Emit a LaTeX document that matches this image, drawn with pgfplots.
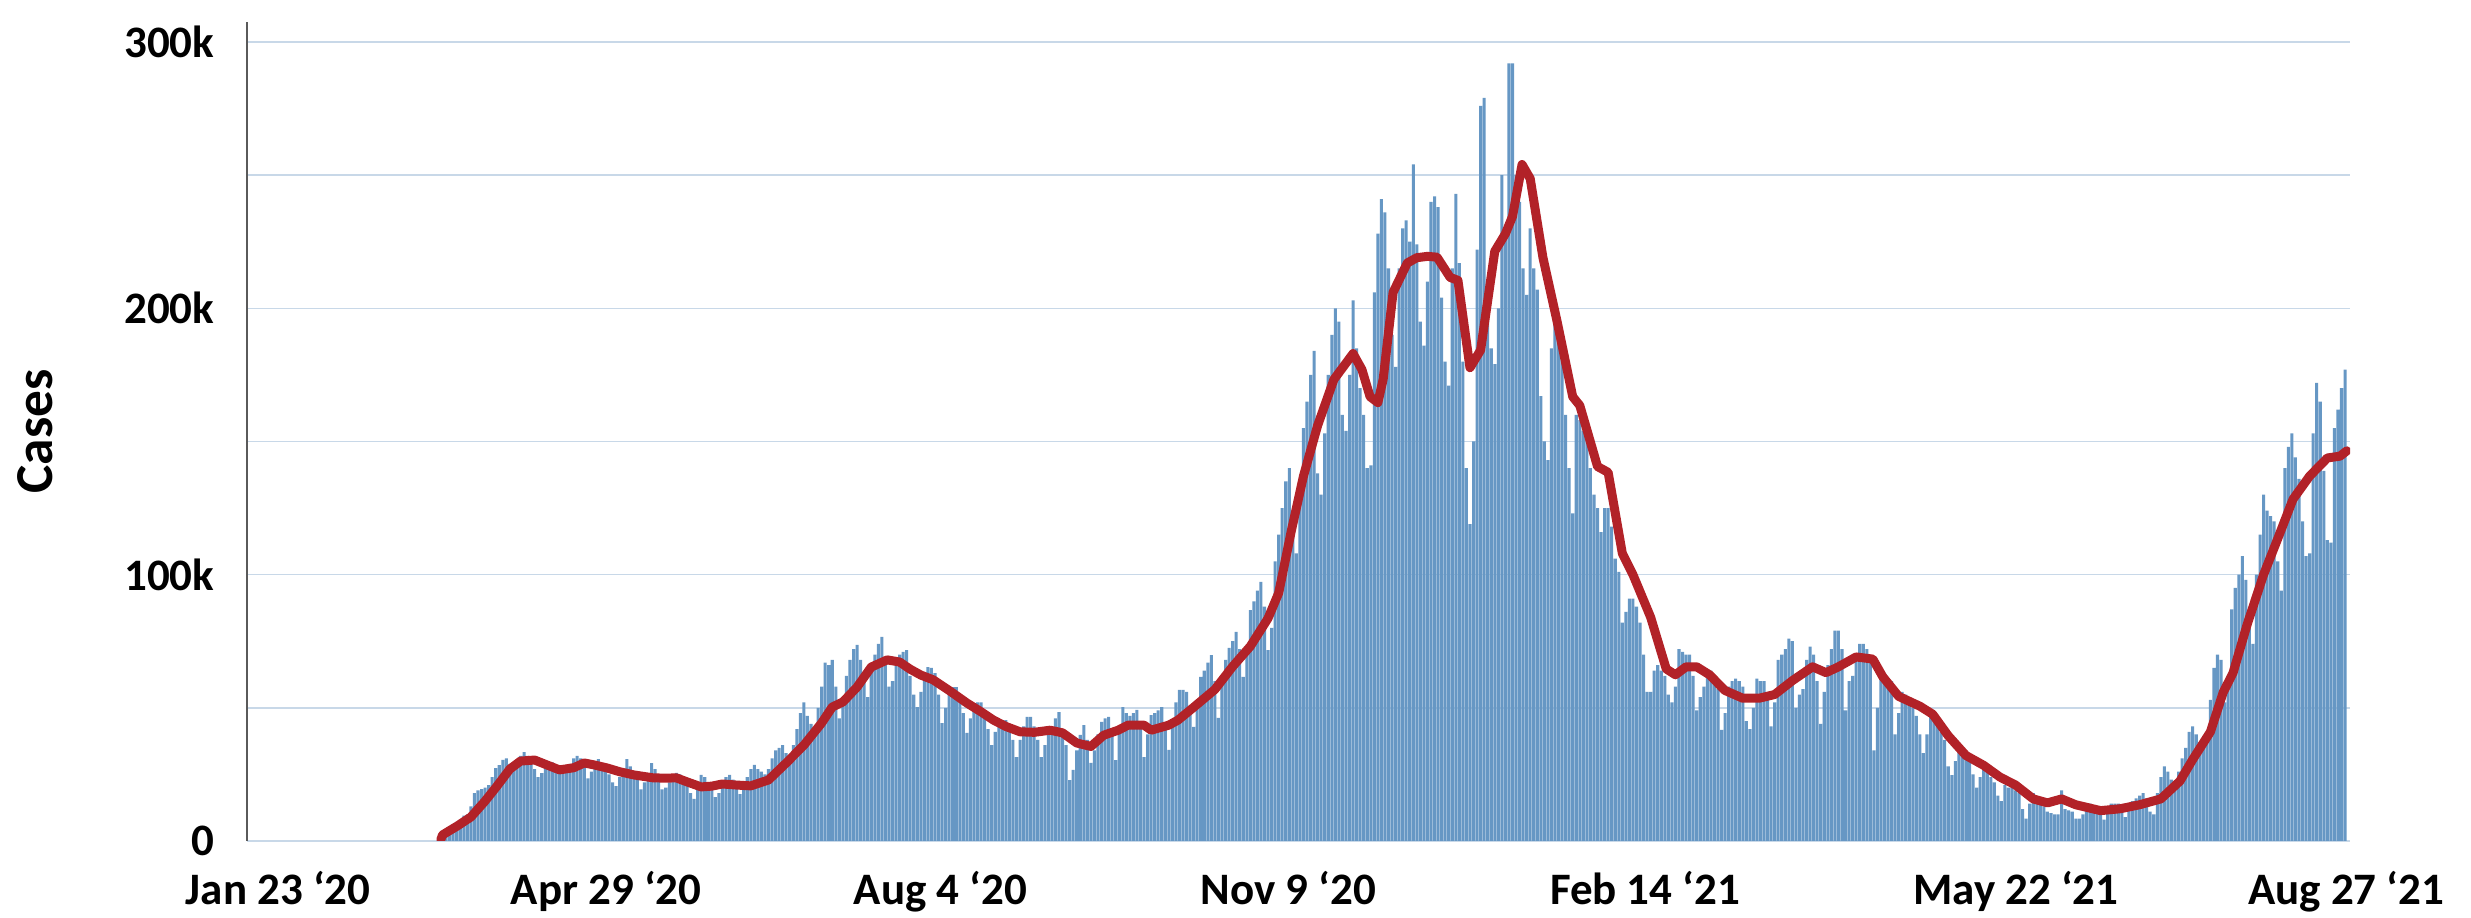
\documentclass[border=0pt]{standalone}
\usepackage{fontspec}
\setmainfont{Carlito}
\usepackage{pgfplots}
\pgfplotsset{compat=1.18}
\definecolor{barblue}{RGB}{102,151,196}
\definecolor{avgred}{RGB}{178,34,40}
\definecolor{gridblue}{RGB}{200,216,232}
\definecolor{axisgray}{RGB}{90,90,90}
\begin{document}
\begin{tikzpicture}
\begin{axis}[
  name=ax,
  width=630.9pt, height=245.7pt, scale only axis,
  xmin=-10.2, xmax=583.4, ymin=0, ymax=307.5,
  axis y line*=left, axis x line*=bottom,
  x axis line style={draw=none},
  y axis line style={axisgray, line width=0.6pt},
  major tick length=0pt,
  xtick={-1.4,91.2,185.5,283.7,384.4,489.1,582.3},
  xticklabels={Jan 23 ‘20, Apr 29 ‘20, Aug 4 ‘20, Nov 9 ‘20, Feb 14 ‘21, May 22 ‘21, Aug 27 ‘21},
  ytick={0,50,...,300},
  yticklabels={0,,100k,,200k,,300k},
  ymajorgrids,
  grid style={gridblue, line width=0.45pt},
  tick label style={font=\fontsize{13.5}{16}\selectfont\bfseries},
  xticklabel style={anchor=north, inner sep=0pt, yshift=-9pt},
  yticklabel style={anchor=east, inner sep=0pt, xshift=-9.6pt},
  every axis y label/.style={at={(rel axis cs:0,0.5)}, xshift=-63.6pt, rotate=90, anchor=center, font=\fontsize{16}{19}\selectfont\bfseries},
  ylabel={Cases},
]
% daily cases, thousands
\addplot[ybar, bar width=0.86, fill=barblue, draw=none] coordinates {
(45,1.5)(46,2.5)(47,3.5)(48,5)(49,6.5)(50,8)(51,9.5)(52,10)(53,13)(54,18)
(55,19)(56,19.5)(57,20)(58,21)(59,24)(60,27.4)(61,28.5)(62,30.5)(63,31)(64,29)
(65,27)(66,30)(67,32)(68,33.4)(69,32)(70,30)(71,27)(72,24)(73,25.5)(74,28)
(75,29.7)(76,29.5)(77,28)(78,26)(79,25.5)(80,27)(81,29)(82,31)(83,32)(84,31)
(85,28)(86,23.5)(87,26)(88,28)(89,30.7)(90,29)(91,27)(92,25)(93,22)(94,20.6)
(95,24)(96,27)(97,30.7)(98,28)(99,26)(100,23)(101,19.4)(102,22)(103,25)(104,29.2)
(105,27)(106,25)(107,19.4)(108,20)(109,22)(110,24)(111,25.6)(112,25)(113,23)(114,21)
(115,18)(116,15.8)(117,20)(118,24.8)(119,24)(120,22)(121,20)(122,16.5)(123,18)(124,22)
(125,24)(126,24.8)(127,23)(128,20)(129,17.6)(130,20)(131,24)(132,27)(133,28.6)(134,27)
(135,26)(136,25)(137,27)(138,31)(139,34)(140,35)(141,36)(142,33)(143,30)(144,36)
(145,42)(146,48)(147,52)(148,47)(149,44)(150,42)(151,50)(152,58)(153,67)(154,66)
(155,68)(156,58)(157,46)(158,52)(159,62)(160,68)(161,72)(162,73.6)(163,68)(164,60)
(165,54)(166,64)(167,70)(168,74)(169,76.6)(170,68)(171,58)(172,60)(173,66)(174,70)
(175,71)(176,71.7)(177,62)(178,55)(179,50.3)(180,56)(181,62)(182,65.3)(183,65)(184,63)
(185,55)(186,44.3)(187,50)(188,56)(189,57.8)(190,57.8)(191,55)(192,48)(193,40.6)(194,46)
(195,51)(196,52)(197,52)(198,47)(199,42)(200,36)(201,41)(202,45)(203,45.4)(204,45.4)
(205,44)(206,38)(207,31.5)(208,38)(209,43)(210,46.6)(211,46.6)(212,43)(213,38)(214,31.5)
(215,36)(216,40)(217,42.8)(218,46)(219,48.4)(220,42)(221,36)(222,22.9)(223,26.7)(224,34)
(225,39.8)(226,43.5)(227,38)(228,29.3)(229,34)(230,40)(231,44.7)(232,46)(233,46.6)(234,40)
(235,30.4)(236,42)(237,50.3)(238,48)(239,47)(240,48)(241,49.2)(242,42)(243,31.5)(244,40)
(245,47.3)(246,48)(247,49)(248,50.3)(249,44)(250,34.2)(251,45)(252,52)(253,56.7)(254,56.7)
(255,56)(256,50)(257,42.8)(258,52)(259,61.6)(260,64)(261,67)(262,69.8)(263,60)(264,46.2)
(265,60)(266,68)(267,72.5)(268,75)(269,78.5)(270,72)(271,61.6)(272,72)(273,86.7)(274,90)
(275,94)(276,97.3)(277,88)(278,71.7)(279,80)(280,105)(281,115)(282,125)(283,135)(284,140)
(285,118)(286,108)(287,130)(288,155)(289,165)(290,175)(291,184)(292,138)(293,130)(294,153)
(295,175)(296,190)(297,200)(298,195)(299,160)(300,154)(301,175)(302,203)(303,185)(304,170)
(305,160)(306,140)(307,141)(308,206)(309,228)(310,241)(311,236)(312,215)(313,190)(314,178)
(315,215)(316,230)(317,233)(318,225)(319,254)(320,224)(321,195)(322,186)(323,210)(324,240)
(325,242)(326,238)(327,204)(328,180)(329,171)(330,215)(331,243)(332,217)(333,180)(334,140)
(335,119)(336,150)(337,222)(338,276)(339,279)(340,197)(341,185)(342,179)(343,200)(344,250)
(345,230)(346,292)(347,292)(348,250)(349,240)(350,215)(351,205)(352,230)(353,215)(354,207)
(355,167)(356,150)(357,143)(358,185)(359,197)(360,195)(361,190)(362,160)(363,140)(364,123)
(365,160)(366,158)(367,154)(368,156)(369,140)(370,130)(371,125)(372,116)(373,125)(374,125)
(375,118)(376,106)(377,101)(378,82)(379,86)(380,91)(381,91)(382,88)(383,82)(384,70)
(385,56)(386,56)(387,64)(388,66)(389,64)(390,62)(391,55)(392,52)(393,58)(394,72)
(395,71)(396,70)(397,70)(398,62)(399,49)(400,54)(401,58)(402,62)(403,64)(404,62)
(405,57)(406,41.7)(407,48)(408,58)(409,60)(410,61)(411,60)(412,58)(413,45)(414,42)
(415,50)(416,61)(417,60)(418,60)(419,55)(420,43)(421,52)(422,68)(423,70)(424,72)
(425,76)(426,75)(427,50)(428,55)(429,57)(430,68)(431,73)(432,70)(433,60)(434,44)
(435,56)(436,66)(437,72)(438,79)(439,79)(440,72)(441,49)(442,60)(443,62)(444,70)
(445,74)(446,74)(447,72)(448,68)(449,34)(450,50)(451,64)(452,63)(453,61)(454,60)
(455,40)(456,48)(457,56)(458,55)(459,52)(460,50)(461,47)(462,40)(463,33)(464,40)
(465,47)(466,45)(467,43)(468,41)(469,38)(470,28)(471,24.7)(472,30)(473,33)(474,32)
(475,31)(476,30)(477,25)(478,20)(479,24)(480,27)(481,26)(482,24)(483,22)(484,17)
(485,15)(486,21)(487,20)(488,20)(489,19)(490,18)(491,12)(492,8.4)(493,14)(494,18)
(495,16)(496,15)(497,13)(498,11)(499,10.5)(500,10)(501,10)(502,19)(503,12)(504,11.5)
(505,11)(506,8.4)(507,8.4)(508,10)(509,14)(510,14)(511,12.5)(512,12)(513,11)(514,8)
(515,11)(516,14)(517,14)(518,14)(519,12)(520,9)(521,12)(522,15)(523,16)(524,17)
(525,18)(526,16)(527,11)(528,10)(529,18)(530,24)(531,28)(532,26)(533,23)(534,21)
(535,26)(536,31)(537,35)(538,41)(539,43)(540,40)(541,35)(542,36)(543,38)(544,53)
(545,65)(546,70)(547,68)(548,52)(549,62)(550,87)(551,95)(552,100)(553,107)(554,98)
(555,85)(556,74)(557,100)(558,115)(559,130)(560,124)(561,122)(562,120)(563,105)(564,94)
(565,140)(566,148)(567,153)(568,144)(569,136)(570,120)(571,107)(572,108)(573,153)(574,172)
(575,165)(576,139)(577,113)(578,112)(579,155)(580,162)(581,170)(582,177)
};
% 7-day average, thousands
\addplot[avgred, line width=2.7pt, line join=round, line cap=round] coordinates {
(44.5,0.5)(45,2.3)(49,5.5)(53,9)(57,15)(60,20)(64,27)(67,30)(71,30.4)(74,28.8)
(78,26.7)(82,27.5)(85,29.3)(88,28.5)(91.5,27.4)(95,26)(99,24.8)(104.5,23.7)(108,23.6)(111,23.7)
(114,22.2)(118,20.3)(121,20.6)(124,21.4)(128,21)(132,20.7)(137,22.9)(142,29.3)(147,36)(152,44.3)
(155,50.3)(158,52.2)(162,57.8)(166,65.3)(170.5,68)(174,67.2)(177,64.5)(180,62.3)(183.5,60.5)(188,56.5)
(193,51.8)(197,48.5)(200.5,45.4)(204,43)(208,41)(212,40.8)(216.5,41.6)(220,40.6)(224,36.8)(228,35.5)
(231.6,39.7)(235.7,41.6)(238.5,43.5)(243,43.5)(245,41.6)(250,43.5)(252.6,45.4)(257,50.2)(263,56.9)(268,65.5)
(273,73.1)(278,83.6)(281,93.1)(284.5,116)(288,137)(292,156)(296.6,173.3)(302,183)(304.5,177)(306.8,166.8)
(309,164.6)(310.5,173.4)(313.3,206)(317.3,217)(320,219)(323,219.5)(325.7,219.2)(329.4,211.6)(331.6,210.5)(335,177.7)
(338,184.3)(342,221.4)(345,228)(347,234.5)(349.7,254)(352,248.7)(355.6,219)(359.6,195)(364,166.8)(366,163.5)
(371,140.6)(374,138.4)(378,108)(381,100)(386,84)(390.4,64.6)(393,62.4)(396,65.4)(399,65.4)(402.6,62.4)
(407,56.5)(412,53.6)(416.6,53.6)(421,55)(426,60.2)(431.7,65.4)(435.5,63.2)(439,65.4)(444,69.1)(448.7,68.3)
(451.5,61.7)(456,54.3)(462,50.6)(465.6,47.6)(470,39.5)(475,32.1)(480,28.4)(484.6,24)(489,21)(494,15.8)
(498,14.3)(502,15.8)(506,13.6)(513,11.4)(518.5,12.1)(524,13.6)(530,15.8)(535.4,22.5)(539,30.6)(544,41)
(547.6,55.8)(550.4,63.2)(554.3,81)(559,100)(563,113.5)(567.3,128.3)(572,137)(577,143.8)(580.6,144.5)(582.5,146.5)
};
\end{axis}
\pgfresetboundingbox
\path[use as bounding box] ([xshift=-74.1pt,yshift=-23.1pt]ax.south west) rectangle ([xshift=36.3pt,yshift=6.6pt]ax.north east);
\end{tikzpicture}
\end{document}
